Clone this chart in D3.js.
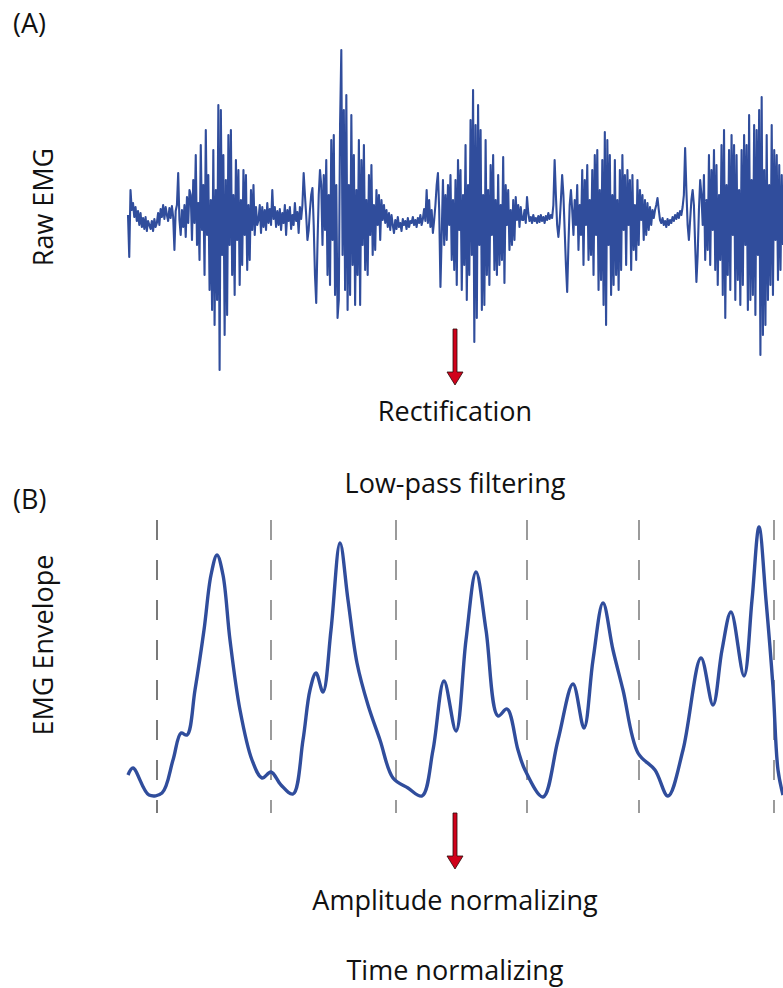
<!DOCTYPE html>
<html>
<head>
<meta charset="utf-8">
<script src="https://cdn.jsdelivr.net/npm/d3@7"></script>
<style>
  body { margin: 0; background: #fff; }
  text { font-family: 'Open Sans', 'Noto Sans', sans-serif; fill: #111; }
</style>
</head>
<body>
<div id="chart-area"></div>
<script>
// raw EMG samples (arbitrary units, baseline 0)
let rawQuiet1 = [0,-42,25,5,12,-2,8,-6,4,-10,2,-12,-3,-14,-2,-16,-6,-10,-14,-6,-16,-4,-12,-8,2,-10,6,-2,10,-4,8,0,-6,7,-3,9,-2,-35,4,10,42,-5,-20,5,-12,10,-22,18,-8,25];
let rawBurst1 = [20,-25,35,-8,60,-30,12,-45,70,-15,30,-60,85,-20,40,-75,15,-95,65,-110,25,-85,110,-155,105,-40,60,-120,35,-100,80,-30,85,-60,20,-80,55,-25,45,-70,15,-50,45,-20,40,-55,10,-45,25,-15,30,-20,8,-10];
let rawQuiet2 = [-5,10,-18,8,-12,5,-15,12,-8,6,-10,25,-4,8,-12,4,-10,6,-15,2,-8,10,-20,5,-6,8,-14,0,-10,12,-6,3,-18,8,-4,10,42,20,0,-25,-15,5,20,27,-10,-60,-88,-30,20,45,30];
let rawBurst2 = [-30,40,-15,55,-60,20,-70,75,-25,80,-80,30,-103,-85,90,165,-40,105,-75,120,-95,30,-80,100,-50,60,-90,25,-60,75,-90,55,-30,70,-55,15,-60,40,-20,50,-40,10,-35,25,-10,20,-25,15,-5,10];
let rawQuiet3 = [-8,5,-12,2,-15,0,-10,-18,-5,-14,-2,-12,-8,-16,-4,-10,-6,-14,-3,-12,-6,-8,-2,-10,-5,-12,-3,-8,0,-10,-4,6,-6,25,-8,15,-12,5,-18,-5,10,30,42,5,-72,-20,35,-30];
let rawBurst3 = [20,-25,30,-10,40,-45,15,-55,35,-70,55,-15,45,-75,20,-50,70,-85,30,-60,95,-40,125,-127,90,-103,110,-30,85,-95,20,-90,75,-60,25,-70,50,-20,60,-55,15,-60,40,-50,10,-45,58,-68,30,-10,25,-35,5,-30,15,-25,18,-5,10,-12,8,-5];
let rawQuiet4 = [-5,5,-8,18,2,-6,-2,-8,0,-6,-3,-8,-1,-7,0,-6,-2,-8,-1,-5,2,-4,0,-3,10,55,20,-10,-22,-8,15,40,20,-15,-50,-77,-30,10,25,5,-20,15,-10];
let rawBurst4 = [30,-35,10,-20,45,-50,35,-10,50,-45,15,-40,45,-60,60,-20,65,-75,25,-65,55,-90,83,-110,75,-30,60,-80,20,-70,55,-60,15,-75,45,-55,60,-15,40,-50,45,-10,35,-55,40,-35,10,-45,35,-30,25,-5,20,-25,15,-20,12,-15,8,-10,5];
let rawQuiet5 = [-3,5,10,17,5,-5,-8,-3,-10,-6,-12,-4,-10,-5,-8,-2,-6,0,-4,2,-3,4,0,8,20,67,25,-10,-25,-5,15,25,10,-30,-67,-40,5,35,20,-10];
let rawBurst5 = [40,-45,15,-35,60,-50,45,-15,65,-55,50,-70,20,-45,70,-80,85,-103,30,-60,65,-75,80,-20,70,-85,60,-65,25,-90,65,-70,80,-30,70,-95,100,-85,35,-80,90,-100,85,-40,105,-140,118,-120,45,-110,80,-85,30,-70,90,-80,65,-25,60,-65,50,-55,40,-30];

// envelope knots: time (ms) and amplitude
let envTime = [0,5,21,34,45,53,59,67,76,83,89,95,102,112,124,134,143,153,165,175,182,188,195,203,212,220,229,240,252,265,280,294,305,316,328,338,348,358,370,379,390,397,415,430,445,456,465,475,485,495,510,527,540,555,573,585,594,603,616,624,631,638,645,650,655];
let envAmp = [25,32,5,7,40,67,65,110,170,225,245,225,160,90,40,22,28,15,6,60,110,127,108,170,257,200,137,95,60,22,12,4,50,119,69,160,228,170,84,91,50,30,3,60,116,72,140,197,150,110,47,30,4,50,142,95,150,188,124,200,273,200,113,30,5];

// cycle boundaries (ms)
let cycleMarks = [29, 143, 268, 399, 511, 646];

let steps = ['Rectification', 'Low-pass filtering', 'Amplitude normalizing', 'Time normalizing'];

let width = 783;
let height = 988;
let duration = 655;

let rawEmg = [].concat(rawQuiet1, rawBurst1, rawQuiet2, rawBurst2, rawQuiet3, rawBurst3, rawQuiet4, rawBurst4, rawQuiet5, rawBurst5);
let dt = duration / (rawEmg.length - 1);

let chart = d3
  .select('#chart-area')
  .append('svg')
  .attr('width', width)
  .attr('height', height);

let x = d3.scaleLinear().domain([0, duration]).range([128, 783]);
let yRaw = d3.scaleLinear().domain([-155, 165]).range([370, 50]);
let yEnv = d3.scaleLinear().domain([0, 280]).range([800, 520]);

let blue = '#304d9c';

//panel A - raw signal
chart
  .append('path')
  .datum(rawEmg)
  .attr('fill', 'none')
  .attr('stroke', blue)
  .attr('stroke-width', 2.1)
  .attr('stroke-linejoin', 'round')
  .attr('d', d3.line().x((d, i) => x(i * dt)).y((d) => yRaw(d)));

//panel B - cycle dividers
chart
  .append('g')
  .selectAll('line')
  .data(cycleMarks)
  .enter()
  .append('line')
  .attr('x1', (d) => x(d))
  .attr('x2', (d) => x(d))
  .attr('y1', 520)
  .attr('y2', 813)
  .attr('stroke', (d, i) => (i == 0 ? '#333' : '#666'))
  .attr('stroke-width', 1.3)
  .attr('stroke-dasharray', '20,20');

//panel B - envelope
chart
  .append('path')
  .datum(d3.zip(envTime, envAmp))
  .attr('fill', 'none')
  .attr('stroke', blue)
  .attr('stroke-width', 3.4)
  .attr('d', d3.line().curve(d3.curveCatmullRom.alpha(0.5)).x((d) => x(d[0])).y((d) => yEnv(d[1])));

//panel labels
chart.append('text').attr('x', 13).attr('y', 33).style('font-size', '27px').text('(A)');
chart.append('text').attr('x', 13).attr('y', 509).style('font-size', '27px').text('(B)');

chart
  .append('text')
  .attr('transform', 'translate(53,207) rotate(-90)')
  .attr('text-anchor', 'middle')
  .style('font-size', '27px')
  .text('Raw EMG');

chart
  .append('text')
  .attr('transform', 'translate(53,645) rotate(-90)')
  .attr('text-anchor', 'middle')
  .style('font-size', '27px')
  .text('EMG Envelope');

//processing steps
let stepY = [421, 493, 910, 980];
chart
  .append('g')
  .selectAll('text')
  .data(steps)
  .enter()
  .append('text')
  .attr('x', 455)
  .attr('y', (d, i) => stepY[i])
  .attr('text-anchor', 'middle')
  .style('font-size', '27px')
  .text((d) => d);

//red arrows
let arrowTops = [329, 813];
chart
  .append('g')
  .selectAll('path')
  .data(arrowTops)
  .enter()
  .append('path')
  .attr('d', (d) => `M453,${d} h4 v43 h6 l-8,13 l-8,-13 h6 z`)
  .attr('fill', '#d0021b')
  .attr('stroke', '#2a0a0a')
  .attr('stroke-width', 0.8);
</script>
</body>
</html>
